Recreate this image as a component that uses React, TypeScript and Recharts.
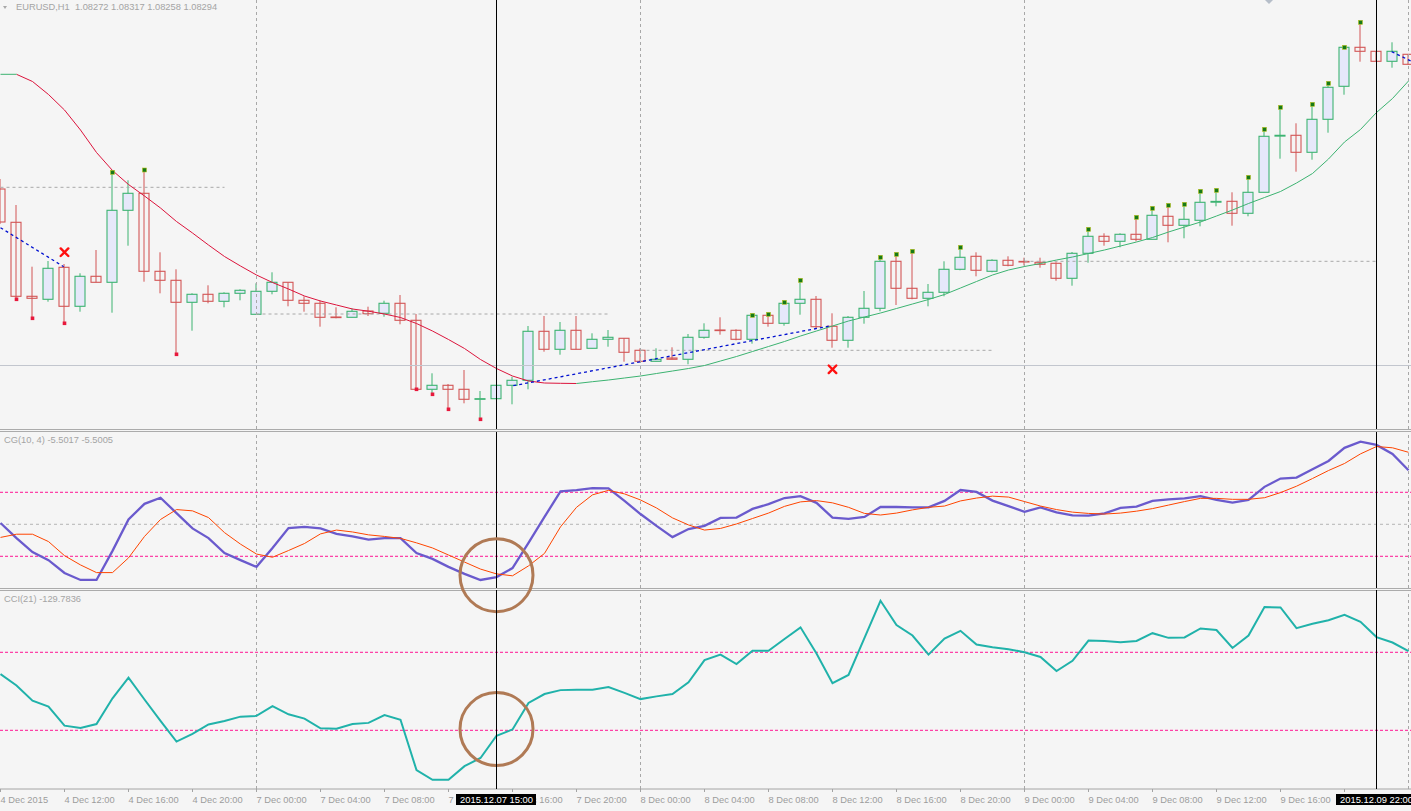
import React from "react";
import {
  ComposedChart,
  Bar,
  Line,
  Scatter,
  XAxis,
  YAxis,
  ReferenceLine,
  ReferenceDot,
} from "recharts";

// ---------- layout constants ----------
const W = 1411;
const X_DOMAIN: [number, number] = [-0.03125, 88.15625];
const PRICE_DOMAIN: [number, number] = [1.0459, 1.0888];
const CG_DOMAIN: [number, number] = [-1.991, 2.884];
const CCI_DOMAIN: [number, number] = [-250.5, 259.7];
const FONT = "'Liberation Sans', Arial, sans-serif";

// ---------- data (EURUSD H1, 4 Dec 2015 08:00 .. 10 Dec 2015 00:00) ----------
const opens = [
  1.0699, 1.06657, 1.05917, 1.05887, 1.06207, 1.05817, 1.06117, 1.06057, 1.06777, 1.06947,
  1.06167, 1.06077, 1.05857, 1.05937, 1.05867, 1.05947, 1.05737, 1.05967, 1.06057, 1.05877,
  1.05847, 1.0571, 1.05707, 1.0577, 1.05747, 1.05847, 1.05677, 1.04987, 1.05027, 1.04987,
  1.04887, 1.04893, 1.05027, 1.05077, 1.05567, 1.05387, 1.05577, 1.05397, 1.05487, 1.05497,
  1.05377, 1.05267, 1.053, 1.05287, 1.05507, 1.0558, 1.05577, 1.05487, 1.05727, 1.05647,
  1.05847, 1.05887, 1.05617, 1.05477, 1.05707, 1.05797, 1.06267, 1.05997, 1.05897, 1.05957,
  1.06187, 1.06317, 1.06167, 1.06277, 1.06266, 1.06257, 1.06247, 1.06097, 1.06347, 1.06517,
  1.06467, 1.06537, 1.06487, 1.06717, 1.06627, 1.06677, 1.06858, 1.06867, 1.06747, 1.06957,
  1.07519, 1.07527, 1.07357, 1.07687, 1.08017, 1.08407, 1.08367, 1.08267, 1.08337,
];
const highs = [
  1.0709, 1.0683, 1.06213, 1.0627, 1.0624, 1.06147, 1.0638, 1.07157, 1.07077, 1.0718,
  1.06357, 1.06187, 1.05947, 1.06027, 1.05957, 1.05987, 1.06047, 1.06157, 1.06057, 1.05917,
  1.05877, 1.05807, 1.05797, 1.05813, 1.05873, 1.0593, 1.0574, 1.05147, 1.0504, 1.0518,
  1.0497, 1.05027, 1.05113, 1.0562, 1.0572, 1.0566, 1.0572, 1.05547, 1.0558, 1.05497,
  1.05397, 1.05397, 1.05407, 1.0554, 1.05647, 1.05707, 1.05587, 1.05727, 1.05737, 1.05857,
  1.06077, 1.0592, 1.05747, 1.0572, 1.0597, 1.06307, 1.06337, 1.06367, 1.0604, 1.06267,
  1.06407, 1.06357, 1.06287, 1.06317, 1.06303, 1.06303, 1.06257, 1.0636, 1.06587, 1.06547,
  1.06547, 1.06707, 1.06797, 1.06827, 1.06837, 1.06967, 1.06977, 1.06957, 1.07107, 1.07587,
  1.07807, 1.07647, 1.07837, 1.08047, 1.08407, 1.08657, 1.08367, 1.08457, 1.08337,
];
const lows = [
  1.0664, 1.05887, 1.05697, 1.05863, 1.05647, 1.05763, 1.06057, 1.05753, 1.06423, 1.06063,
  1.05947, 1.05337, 1.05573, 1.05847, 1.05807, 1.05877, 1.05737, 1.05937, 1.05817, 1.05763,
  1.05613, 1.05697, 1.05707, 1.0572, 1.05713, 1.05637, 1.04987, 1.04937, 1.04787, 1.04847,
  1.04687, 1.04893, 1.04837, 1.04987, 1.05363, 1.05333, 1.05387, 1.05397, 1.05413, 1.05263,
  1.05267, 1.05267, 1.05287, 1.05237, 1.05493, 1.05533, 1.05477, 1.05443, 1.05613, 1.05623,
  1.05733, 1.05593, 1.05403, 1.05403, 1.05643, 1.05767, 1.0583, 1.05887, 1.05817, 1.05917,
  1.06177, 1.06117, 1.06157, 1.06217, 1.06225, 1.06203, 1.06073, 1.06023, 1.06253, 1.06423,
  1.06407, 1.06467, 1.06487, 1.06457, 1.06497, 1.06617, 1.06817, 1.06623, 1.06717, 1.06957,
  1.07293, 1.07163, 1.07283, 1.07553, 1.07933, 1.08263, 1.08267, 1.08203, 1.08237,
];
const closes = [
  1.0666, 1.05917, 1.05897, 1.06197, 1.05817, 1.06117, 1.06057, 1.06777, 1.06947, 1.06167,
  1.06077, 1.05857, 1.05937, 1.05867, 1.05947, 1.05977, 1.05967, 1.06057, 1.05877, 1.05847,
  1.05707, 1.05704, 1.05767, 1.05743, 1.05847, 1.05677, 1.04987, 1.05027, 1.04987, 1.04887,
  1.04893, 1.05027, 1.05077, 1.05567, 1.05387, 1.05577, 1.05387, 1.05487, 1.05507, 1.05357,
  1.05267, 1.05287, 1.05287, 1.05507, 1.05577, 1.05574, 1.05487, 1.05727, 1.05647, 1.05847,
  1.05887, 1.05613, 1.05477, 1.05707, 1.05797, 1.06267, 1.05997, 1.05897, 1.05957, 1.06187,
  1.06307, 1.06177, 1.06277, 1.06227, 1.0626, 1.06237, 1.06097, 1.06347, 1.06517, 1.06467,
  1.06537, 1.06487, 1.06727, 1.06627, 1.06687, 1.06857, 1.06866, 1.06747, 1.06957, 1.07517,
  1.07527, 1.07357, 1.07687, 1.08007, 1.08407, 1.08367, 1.08267, 1.08367, 1.08237,
];
const maValues = [
  1.08137, 1.08137, 1.08065, 1.07935, 1.0778, 1.0758, 1.07355, 1.07175, 1.07035, 1.0692,
  1.068, 1.06665, 1.0655, 1.0643, 1.06315, 1.0622, 1.0613, 1.06055, 1.0599, 1.0592,
  1.0587, 1.0583, 1.0579, 1.05768, 1.0574, 1.05705, 1.05645, 1.0557, 1.05485, 1.05395,
  1.05285, 1.05195, 1.0512, 1.0507, 1.0505, 1.05047, 1.05045, 1.05063, 1.0508, 1.051,
  1.0512, 1.05145, 1.0517, 1.05195, 1.05225, 1.0527, 1.05315, 1.05365, 1.05415, 1.05465,
  1.0552, 1.0557, 1.0562, 1.0567, 1.0571, 1.0575, 1.05795, 1.0584, 1.05885, 1.05935,
  1.06, 1.06065, 1.0613, 1.0618, 1.06215, 1.06245, 1.0628, 1.0631, 1.06345, 1.0638,
  1.0642, 1.0646, 1.06505, 1.0656, 1.0661, 1.0666, 1.0672, 1.0678, 1.06845, 1.06905,
  1.06965, 1.0705, 1.07145, 1.0729, 1.0746, 1.07585, 1.07755, 1.07895, 1.0807,
];
const cgMain = [
  0.04, -0.43, -0.87, -1.12, -1.52, -1.74, -1.74, -0.83, 0.15, 0.64,
  0.83, 0.35, -0.13, -0.43, -0.9, -1.12, -1.33, -0.74, -0.12, -0.08,
  -0.13, -0.3, -0.38, -0.48, -0.43, -0.43, -0.9, -1.08, -1.33, -1.55,
  -1.74, -1.65, -1.37, -0.58, 0.23, 1.03, 1.07, 1.13, 1.12, 0.73,
  0.32, -0.05, -0.4, -0.15, -0.05, 0.2, 0.21, 0.48, 0.63, 0.82,
  0.88, 0.67, 0.21, 0.17, 0.23, 0.54, 0.54, 0.53, 0.53, 0.73,
  1.07, 1.01, 0.74, 0.57, 0.39, 0.53, 0.37, 0.28, 0.27, 0.34,
  0.51, 0.55, 0.73, 0.78, 0.81, 0.88, 0.76, 0.68, 0.76, 1.17,
  1.43, 1.46, 1.72, 1.98, 2.39, 2.58, 2.48, 2.2, 1.69,
];
const cgSignal = [
  -0.41, -0.31, -0.31, -0.54, -0.98, -1.27, -1.51, -1.51, -1.05, -0.38,
  0.15, 0.46, 0.42, 0.21, -0.26, -0.62, -0.93, -1.03, -0.82, -0.6,
  -0.3, -0.18, -0.24, -0.33, -0.38, -0.44, -0.58, -0.74, -0.96, -1.18,
  -1.4, -1.55, -1.61, -1.3, -0.91, -0.08, 0.53, 0.92, 1.06, 0.95,
  0.76, 0.51, 0.2, -0.02, -0.18, -0.13, 0.01, 0.18, 0.35, 0.56,
  0.7, 0.74, 0.67, 0.53, 0.34, 0.29, 0.35, 0.45, 0.53, 0.57,
  0.73, 0.82, 0.88, 0.85, 0.71, 0.57, 0.46, 0.38, 0.34, 0.32,
  0.35, 0.41, 0.49, 0.6, 0.71, 0.81, 0.81, 0.78, 0.78, 0.83,
  0.99, 1.19, 1.43, 1.68, 1.9, 2.2, 2.43, 2.39, 2.25,
];
const cciValues = [
  44, 15, -24, -39, -88, -94, -84, -18, 35, -21,
  -76, -129, -109, -85, -76, -65, -63, -38, -59, -70,
  -95, -96, -84, -81, -61, -73, -202, -227, -227, -192,
  -171, -114, -98, -30, -7, 3, 4, 4, 11, -4,
  -20, -13, -7, 23, 80, 94, 70, 104, 104, 134,
  164, 97, 21, 42, 137, 232, 170, 143, 94, 135,
  155, 120, 113, 108, 100, 88, 52, 78, 130, 129,
  126, 129, 149, 137, 138, 161, 157, 111, 143, 216,
  215, 162, 173, 182, 196, 178, 139, 125, 103,
];
const fractalUpBars = [7, 9, 47, 48, 49, 50, 55, 56, 57, 60, 68, 71, 72, 73, 74, 75, 76, 78, 79, 80, 82, 83, 84, 85];
const fractalDownBars = [1, 2, 4, 11, 26, 27, 28, 30];
const crossMarks = [
  { i: 4, v: 1.06358 },
  { i: 52, v: 1.05187 },
];
const trendLines = [
  { x1: 0, y1: 1.06603, x2: 3.95, y2: 1.06213 },
  { x1: 32.05, y1: 1.05023, x2: 51.84, y2: 1.0562 },
  { x1: 86.95, y1: 1.08363, x2: 88.15, y2: 1.0827 },
];
const dayLevels = [
  { from: 0, to: 14, price: 1.07007 },
  { from: 16, to: 38, price: 1.0574 },
  { from: 40, to: 62, price: 1.05377 },
  { from: 64, to: 86, price: 1.06267 },
];
const supportLevel = 1.05225;
const daySeparators = [16, 40, 64, 88];
const cursorBars = [31, 86];
const cursorLabels = ["2015.12.07 15:00", "2015.12.09 22:00"];
const cgLevels = [1, -1];
const cciLevels = [100, -100];
const cgCircle = { i: 31, v: -1.59 };
const cciCircle = { i: 31, v: -96.7 };
const tickBars = [0, 4, 8, 12, 16, 20, 24, 28, 32, 36, 40, 44, 48, 52, 56, 60, 64, 68, 72, 76, 80, 84];
const tickLabels = [
  "4 Dec 2015", "4 Dec 12:00", "4 Dec 16:00", "4 Dec 20:00",
  "7 Dec 00:00", "7 Dec 04:00", "7 Dec 08:00", "7 Dec 12:00", "7 Dec 16:00", "7 Dec 20:00",
  "8 Dec 00:00", "8 Dec 04:00", "8 Dec 08:00", "8 Dec 12:00", "8 Dec 16:00", "8 Dec 20:00",
  "9 Dec 00:00", "9 Dec 04:00", "9 Dec 08:00", "9 Dec 12:00", "9 Dec 16:00", "9 Dec 20:00",
];

// ---------- derived rows ----------
const priceRows = opens.map((o, i) => {
  const ma = maValues[i];
  const prev = i > 0 ? maValues[i - 1] : null;
  const next = i < maValues.length - 1 ? maValues[i + 1] : null;
  const fallIn = prev !== null && ma < prev;
  const fallOut = next !== null && next < ma;
  const riseIn = prev !== null && ma >= prev;
  const riseOut = next !== null && next >= ma;
  return {
    i,
    open: o,
    high: highs[i],
    low: lows[i],
    close: closes[i],
    range: [lows[i], highs[i]],
    maDown: fallIn || fallOut ? ma : null,
    maUp: riseIn || riseOut ? ma : null,
  };
});
const upDots = fractalUpBars.map((i) => ({ i, v: highs[i] }));
const downDots = fractalDownBars.map((i) => ({ i, v: lows[i] }));
const cgRows = cgMain.map((m, i) => ({ i, main: m, signal: cgSignal[i] }));
const cciRows = cciValues.map((c, i) => ({ i, cci: c }));

// ---------- shapes ----------
const BULL = "#3cb371";
const BEAR = "#d25555";

const Candle = (props: any) => {
  const { x, y, width, height, payload } = props;
  if (!payload) return null;
  const { open, close, high, low } = payload;
  const top = Math.min(y, y + height);
  const h = Math.abs(height);
  const cx = x + width / 2;
  const k = h / (high - low);
  const yOf = (v: number) => top + (high - v) * k;
  const bull = close >= open;
  const color = bull ? BULL : BEAR;
  const bTop = yOf(Math.max(open, close));
  const bBot = yOf(Math.min(open, close));
  return (
    <g>
      <line x1={cx} x2={cx} y1={yOf(high)} y2={yOf(low)} stroke={color} strokeWidth={1} />
      <rect
        x={cx - 5}
        y={bTop}
        width={10}
        height={Math.max(bBot - bTop, 0.6)}
        fill={bull ? "#e6e8fa" : "none"}
        stroke={color}
        strokeWidth={1.1}
      />
    </g>
  );
};

const UpDot = (p: any) => (
  <rect x={p.cx - 2} y={p.cy - 2} width={4} height={4} fill="#177a17" stroke="#b8c020" strokeWidth={0.6} />
);
const DownDot = (p: any) => (
  <rect x={p.cx - 1.8} y={p.cy - 1.8} width={3.6} height={3.6} fill="#e8183c" />
);
const CrossMark = (p: any) => (
  <g stroke="#ff1010" strokeWidth={2.4} strokeLinecap="round">
    <line x1={p.cx - 3.8} y1={p.cy - 3.8} x2={p.cx + 3.8} y2={p.cy + 3.8} />
    <line x1={p.cx - 3.8} y1={p.cy + 3.8} x2={p.cx + 3.8} y2={p.cy - 3.8} />
  </g>
);

const CursorTag = (props: any) => {
  const { viewBox, text } = props;
  if (!viewBox) return null;
  const x = viewBox.x;
  const bottom = Math.max(viewBox.y, viewBox.y + viewBox.height);
  return (
    <g>
      <rect x={x - 40.5} y={bottom + 5} width={80} height={11} fill="#000" />
      <text x={x} y={bottom + 14} textAnchor="middle" fill="#fff" fontSize={9.4} fontFamily={FONT}>
        {text}
      </text>
    </g>
  );
};

const AxisTick = (props: any) => {
  const { x, y, payload } = props;
  const idx = tickBars.indexOf(payload.value);
  return (
    <text x={x} y={y} dy={9} textAnchor="start" fill="#9c9c9c" fontSize={9.3} fontFamily={FONT}>
      {tickLabels[idx]}
    </text>
  );
};

const M = { top: 0, right: 0, bottom: 0, left: 0 };

const grid = (prefix: string) =>
  daySeparators.map((d) => (
    <ReferenceLine key={prefix + d} x={d} stroke="#a8a8a8" strokeDasharray="3 3" />
  ));
const cursors = (prefix: string, withLabel: boolean) =>
  cursorBars.map((b, k) => (
    <ReferenceLine
      key={prefix + b}
      x={b}
      stroke="#000"
      strokeWidth={1}
      label={withLabel ? <CursorTag text={cursorLabels[k]} /> : undefined}
    />
  ));

const sep = (top: number) => (
  <div style={{ position: "absolute", left: 0, top, width: W, height: 1, background: "#ababab" }} />
);

export default function App() {
  return (
    <div
      style={{
        position: "relative",
        width: W,
        height: 811,
        background: "#f5f5f5",
        overflow: "hidden",
        fontFamily: FONT,
      }}
    >
      <style>{"body{margin:0} .ov-wrap svg{overflow:visible}"}</style>
      {sep(429)}
      {sep(431)}
      {sep(588)}
      {sep(590)}

      {/* price panel */}
      <div style={{ position: "absolute", left: 0, top: 0 }}>
        <ComposedChart width={W} height={429} data={priceRows} margin={M}>
          <XAxis hide type="number" dataKey="i" domain={X_DOMAIN} allowDataOverflow />
          <YAxis hide domain={PRICE_DOMAIN} allowDataOverflow />
          {grid("pg")}
          <ReferenceLine y={supportLevel} stroke="#c2c6ce" strokeWidth={1} />
          {dayLevels.map((l, k) => (
            <ReferenceLine
              key={"dl" + k}
              segment={[
                { x: l.from, y: l.price },
                { x: l.to, y: l.price },
              ]}
              stroke="#a8a8a8"
              strokeDasharray="3 3"
            />
          ))}
          <Bar dataKey="range" barSize={11} shape={(p: any) => <Candle {...p} />} isAnimationActive={false} />
          <Line
            dataKey="maDown"
            stroke="#dc143c"
            strokeWidth={1}
            dot={false}
            activeDot={false}
            connectNulls={false}
            isAnimationActive={false}
          />
          <Line
            dataKey="maUp"
            stroke="#3cb371"
            strokeWidth={1}
            dot={false}
            activeDot={false}
            connectNulls={false}
            isAnimationActive={false}
          />
          {trendLines.map((t, k) => (
            <ReferenceLine
              key={"tl" + k}
              segment={[
                { x: t.x1, y: t.y1 },
                { x: t.x2, y: t.y2 },
              ]}
              stroke="#0010d0"
              strokeWidth={1.3}
              strokeDasharray="3 3"
            />
          ))}
          <Scatter data={upDots} dataKey="v" shape={(p: any) => <UpDot {...p} />} isAnimationActive={false} />
          <Scatter data={downDots} dataKey="v" shape={(p: any) => <DownDot {...p} />} isAnimationActive={false} />
          <Scatter data={crossMarks} dataKey="v" shape={(p: any) => <CrossMark {...p} />} isAnimationActive={false} />
          {cursors("pc", false)}
        </ComposedChart>
      </div>

      {/* CG panel */}
      <div className="ov-wrap" style={{ position: "absolute", left: 0, top: 432 }}>
        <ComposedChart width={W} height={156} data={cgRows} margin={M}>
          <XAxis hide type="number" dataKey="i" domain={X_DOMAIN} allowDataOverflow />
          <YAxis hide domain={CG_DOMAIN} allowDataOverflow />
          {grid("cg")}
          <ReferenceLine y={0} stroke="#b4b4b4" strokeDasharray="3 3" />
          {cgLevels.map((l) => (
            <ReferenceLine key={"cgl" + l} y={l} stroke="#ff1493" strokeDasharray="3 2" />
          ))}
          <Line dataKey="main" stroke="#6a5acd" strokeWidth={2.3} dot={false} activeDot={false} isAnimationActive={false} />
          <Line dataKey="signal" stroke="#ff4500" strokeWidth={1} dot={false} activeDot={false} isAnimationActive={false} />
          {cursors("cc", false)}
          <ReferenceDot
            x={cgCircle.i}
            y={cgCircle.v}
            r={36.5}
            fill="none"
            stroke="#b07a55"
            strokeWidth={3}
            ifOverflow="visible"
          />
        </ComposedChart>
      </div>

      {/* CCI panel */}
      <div style={{ position: "absolute", left: 0, top: 590 }}>
        <ComposedChart width={W} height={221} data={cciRows} margin={M}>
          <XAxis
            type="number"
            dataKey="i"
            domain={X_DOMAIN}
            allowDataOverflow
            ticks={tickBars}
            interval={0}
            tickSize={3}
            height={22}
            axisLine={{ stroke: "#a4a4a4" }}
            tickLine={{ stroke: "#a4a4a4" }}
            tick={(p: any) => <AxisTick {...p} />}
          />
          <YAxis hide domain={CCI_DOMAIN} allowDataOverflow />
          {grid("ci")}
          {cciLevels.map((l) => (
            <ReferenceLine key={"cil" + l} y={l} stroke="#ff1493" strokeDasharray="3 2" />
          ))}
          <Line dataKey="cci" stroke="#20b2aa" strokeWidth={2} dot={false} activeDot={false} isAnimationActive={false} />
          <ReferenceDot
            x={cciCircle.i}
            y={cciCircle.v}
            r={36.5}
            fill="none"
            stroke="#b07a55"
            strokeWidth={3}
            ifOverflow="visible"
          />
        </ComposedChart>
      </div>

      {/* cursor overlay on top of the time axis */}
      <div className="ov-wrap" style={{ position: "absolute", left: 0, top: 590 }}>
        <ComposedChart width={W} height={221} data={cciRows} margin={M}>
          <XAxis
            type="number"
            dataKey="i"
            domain={X_DOMAIN}
            allowDataOverflow
            height={22}
            tick={false}
            tickLine={false}
            axisLine={false}
          />
          <YAxis hide domain={CCI_DOMAIN} allowDataOverflow />
          {cursors("ic", true)}
        </ComposedChart>
      </div>

      {/* panel captions */}
      <div
        style={{
          position: "absolute",
          left: 3,
          top: 6,
          width: 0,
          height: 0,
          borderLeft: "2.5px solid transparent",
          borderRight: "2.5px solid transparent",
          borderTop: "3px solid #a8a8a8",
        }}
      />
      <div
        style={{
          position: "absolute",
          left: 1265,
          top: 0,
          width: 0,
          height: 0,
          borderLeft: "4.5px solid transparent",
          borderRight: "4.5px solid transparent",
          borderTop: "4.5px solid #b6bec9",
        }}
      />
      <div style={{ position: "absolute", left: 16, top: 2, fontSize: 9.3, lineHeight: "11px", color: "#a4a4a4", whiteSpace: "pre" }}>
        {"EURUSD,H1  1.08272 1.08317 1.08258 1.08294"}
      </div>
      <div style={{ position: "absolute", left: 4, top: 435.3, fontSize: 9.3, lineHeight: "11px", color: "#a4a4a4", whiteSpace: "pre" }}>
        {"CG(10, 4) -5.5017 -5.5005"}
      </div>
      <div style={{ position: "absolute", left: 4, top: 594.3, fontSize: 9.3, lineHeight: "11px", color: "#a4a4a4", whiteSpace: "pre" }}>
        {"CCI(21) -129.7836"}
      </div>
    </div>
  );
}
